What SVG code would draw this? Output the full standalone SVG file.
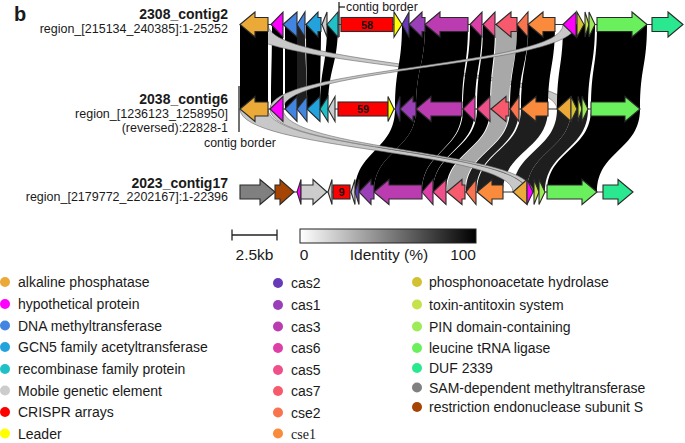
<svg xmlns="http://www.w3.org/2000/svg" width="685" height="443" viewBox="0 0 685 443">
<defs>
<linearGradient id="idg" x1="0" y1="0" x2="1" y2="0"><stop offset="0" stop-color="#ffffff"/><stop offset="1" stop-color="#000000"/></linearGradient>
</defs>
<style>
text{font-family:"Liberation Sans",Arial,sans-serif;fill:#1a1a1a}
.ttl{font-size:14px;font-weight:bold;text-anchor:end}
.sub{font-size:12.5px;text-anchor:end}
.lg{font-size:14px}
.cb{font-size:15.5px}
.num{font-size:11px;font-weight:bold;text-anchor:middle;fill:#111}
.g path,.g rect{stroke:#2b2b2b;stroke-width:1.1;stroke-linejoin:miter}
.trk{stroke:#333;stroke-width:1}
.rk{fill:#000}
.rd{fill:#1e1e1e}
.rm{fill:#a8a8a8}
.rl{fill:#c8c8c8;stroke:#666;stroke-width:0.6}
.alk{fill:#eba937}.hyp{fill:#ff00ff}.dna{fill:#4285e0}.gcn{fill:#22a3dd}.rec{fill:#20c0c8}.mob{fill:#cccccc}.cr{fill:#ff0000}.ld{fill:#ffff00}
.c2{fill:#673ab7}.c1{fill:#9b3fb8}.c3{fill:#bb3bb0}.c6{fill:#dd3fa8}.c5{fill:#f0508a}.c7{fill:#f65a6c}.e2{fill:#f7744e}.e1{fill:#fa8a3c}
.pho{fill:#d2c233}.tox{fill:#c5e24a}.pin{fill:#9ceb57}.leu{fill:#6bf05d}.duf{fill:#2ae890}.sam{fill:#808080}.res{fill:#a64503}
</style>
<rect width="685" height="443" fill="#ffffff"/>
<text x="14" y="21" style="font-size:20px;font-weight:bold">b</text>

<g id="connectors">
<!-- row1 to row2 -->
<path class="rk" d="M272 24.5L283 24.5C283 66.75 283 66.75 283 109L271 109C271 66.75 272 66.75 272 24.5Z"/>
<path class="rk" d="M285 24.5L297 24.5C297 66.75 297 66.75 297 109L285 109C285 66.75 285 66.75 285 24.5Z"/>
<path class="rd" d="M297 24.5L305 24.5C305 66.75 307 66.75 307 109L297 109C297 66.75 297 66.75 297 24.5Z"/>
<path class="rk" d="M306 24.5L321 24.5C321 66.75 320 66.75 320 109L307 109C307 66.75 306 66.75 306 24.5Z"/>
<path class="rk" d="M327 24.5L338 24.5C338 66.75 328 66.75 328 109L320 109C320 66.75 327 66.75 327 24.5Z"/>
<path class="rl" d="M240 24.5L268 24.5C268 66.75 571 66.75 571 109L557 109C557 66.75 240 66.75 240 24.5Z"/>
<path class="rk" d="M402 24.5L425 24.5C425 66.75 416 66.75 416 109L395 109C395 66.75 402 66.75 402 24.5Z"/>
<path class="rk" d="M425 24.5L468 24.5C468 66.75 462 66.75 462 109L416 109C416 66.75 425 66.75 425 24.5Z"/>
<path class="rk" d="M470 24.5L482 24.5C482 66.75 475 66.75 475 109L463 109C463 66.75 470 66.75 470 24.5Z"/>
<path class="rk" d="M483 24.5L495 24.5C495 66.75 490 66.75 490 109L477 109C477 66.75 483 66.75 483 24.5Z"/>
<path class="rm" d="M496 24.5L517 24.5C517 66.75 509 66.75 509 109L491 109C491 66.75 496 66.75 496 24.5Z"/>
<path class="rk" d="M517 24.5L528 24.5C528 66.75 519 66.75 519 109L510 109C510 66.75 517 66.75 517 24.5Z"/>
<path class="rk" d="M528 24.5L555 24.5C555 66.75 548 66.75 548 109L521 109C521 66.75 528 66.75 528 24.5Z"/>
<path class="rk" d="M563 24.5L595 24.5C595 66.75 588 66.75 588 109L557 109C557 66.75 563 66.75 563 24.5Z"/>
<path class="rk" d="M597 24.5L647 24.5C647 66.75 640 66.75 640 109L591 109C591 66.75 597 66.75 597 24.5Z"/>
<path class="rl" d="M563 24.5L576 24.5C576 66.75 283 66.75 283 109L270 109C270 66.75 563 66.75 563 24.5Z"/>
<path class="rk" d="M240 24.5L268 24.5L268 109L240 109Z"/>
<!-- row2 to row3 -->
<path class="rk" d="M395 109L416 109C416 150.5 374 150.5 374 192L355 192C355 150.5 395 150.5 395 109Z"/>
<path class="rk" d="M416 109L462 109C462 150.5 422 150.5 422 192L374 192C374 150.5 416 150.5 416 109Z"/>
<path class="rk" d="M463 109L475 109C475 150.5 433 150.5 433 192L422 192C422 150.5 463 150.5 463 109Z"/>
<path class="rk" d="M477 109L490 109C490 150.5 446 150.5 446 192L433 192C433 150.5 477 150.5 477 109Z"/>
<path class="rm" d="M491 109L509 109C509 150.5 465 150.5 465 192L447 192C447 150.5 491 150.5 491 109Z"/>
<path class="rd" d="M510 109L519 109C519 150.5 476 150.5 476 192L466 192C466 150.5 510 150.5 510 109Z"/>
<path class="rd" d="M521 109L548 109C548 150.5 503 150.5 503 192L477 192C477 150.5 521 150.5 521 109Z"/>
<path class="rd" d="M557 109L571 109C571 150.5 527 150.5 527 192L513 192C513 150.5 557 150.5 557 109Z"/>
<path class="rd" d="M571 109L588 109C588 150.5 545 150.5 545 192L527 192C527 150.5 571 150.5 571 109Z"/>
<path class="rk" d="M591 109L640 109C640 150.5 597 150.5 597 192L547 192C547 150.5 591 150.5 591 109Z"/>
<path class="rl" d="M240 109L268 109C268 150.5 527 150.5 527 192L513 192C513 150.5 240 150.5 240 109Z"/>
<path class="rl" d="M270 109L283 109C283 150.5 533 150.5 533 192L527 192C527 150.5 270 150.5 270 109Z"/>
</g>

<g id="borders" stroke="#111" stroke-width="1.2">
<line x1="339" y1="2" x2="339" y2="37"/>
<line x1="339" y1="7" x2="345" y2="7"/>
<line x1="239" y1="86" x2="239" y2="132"/>
</g>
<text x="346" y="11" style="font-size:12.3px">contig border</text>
<text x="240" y="147" style="font-size:12.3px;text-anchor:middle">contig border</text>

<g id="track1" class="g">
<line class="trk" x1="240" y1="24.5" x2="683" y2="24.5"/>
<path class="alk" d="M240 24.5L255 12L255 17.5L268 17.5L268 31.5L255 31.5L255 37Z"/>
<path class="hyp" d="M271 24.5L283 12L283 37Z"/>
<path class="dna" d="M283 24.5L297 12L297 37Z"/>
<path class="dna" d="M297 24.5L305 12L305 37Z"/>
<path class="gcn" d="M306 24.5L318 12L318 17.5L321 17.5L321 31.5L318 31.5L318 37Z"/>
<path class="mob" d="M322 24.5L327 12L327 37Z"/>
<path class="rec" d="M327 24.5L338 12L338 37Z"/>
<rect class="cr" x="341" y="17.5" width="52" height="14"/>
<path class="ld" d="M402 24.5L394 12L394 37Z"/>
<path class="c2" d="M402 24.5L409 12L409 37Z"/>
<path class="c1" d="M409 24.5L422 12L422 17.5L425 17.5L425 31.5L422 31.5L422 37Z"/>
<path class="c3" d="M425 24.5L440 12L440 17.5L468 17.5L468 31.5L440 31.5L440 37Z"/>
<path class="c6" d="M470 24.5L482 12L482 37Z"/>
<path class="c5" d="M483 24.5L495 12L495 37Z"/>
<path class="c7" d="M496 24.5L511 12L511 17.5L517 17.5L517 31.5L511 31.5L511 37Z"/>
<path class="e2" d="M517 24.5L528 12L528 37Z"/>
<path class="e1" d="M528 24.5L543 12L543 17.5L555 17.5L555 31.5L543 31.5L543 37Z"/>
<path class="hyp" d="M563 24.5L576 12L576 37Z"/>
<path class="pho" d="M584 24.5L577 12L577 37Z"/>
<path class="tox" d="M589 24.5L585 12L585 37Z"/>
<path class="pin" d="M595 24.5L589 12L589 37Z"/>
<path class="leu" d="M647 24.5L632 12L632 17.5L597 17.5L597 31.5L632 31.5L632 37Z"/>
<path class="duf" d="M683 24.5L668 12L668 17.5L652 17.5L652 31.5L668 31.5L668 37Z"/>
</g>
<text class="num" x="367" y="28.5">58</text>

<g id="track2" class="g">
<line class="trk" x1="240" y1="109" x2="640" y2="109"/>
<path class="alk" d="M240 109L255 96.5L255 102L268 102L268 116L255 116L255 121.5Z"/>
<path class="hyp" d="M270 109L283 96.5L283 121.5Z"/>
<path class="dna" d="M285 109L297 96.5L297 121.5Z"/>
<path class="dna" d="M297 109L307 96.5L307 121.5Z"/>
<path class="gcn" d="M307 109L320 96.5L320 121.5Z"/>
<path class="rec" d="M320 109L328 96.5L328 121.5Z"/>
<path class="mob" d="M328 109L335 96.5L335 121.5Z"/>
<rect class="cr" x="338" y="102" width="50" height="14"/>
<path class="ld" d="M394 109L388 96.5L388 121.5Z"/>
<path class="c2" d="M395 109L400 96.5L400 121.5Z"/>
<path class="c1" d="M400 109L413 96.5L413 102L416 102L416 116L413 116L413 121.5Z"/>
<path class="c3" d="M416 109L431 96.5L431 102L462 102L462 116L431 116L431 121.5Z"/>
<path class="c6" d="M463 109L475 96.5L475 121.5Z"/>
<path class="c5" d="M477 109L490 96.5L490 121.5Z"/>
<path class="c7" d="M491 109L506 96.5L506 102L509 102L509 116L506 116L506 121.5Z"/>
<path class="e2" d="M510 109L519 96.5L519 121.5Z"/>
<path class="e1" d="M521 109L536 96.5L536 102L548 102L548 116L536 116L536 121.5Z"/>
<path class="alk" d="M557 109L571 96.5L571 121.5Z"/>
<path class="pho" d="M577 109L571 96.5L571 121.5Z"/>
<path class="tox" d="M582 109L578 96.5L578 121.5Z"/>
<path class="pin" d="M588 109L582 96.5L582 121.5Z"/>
<path class="leu" d="M640 109L625 96.5L625 102L591 102L591 116L625 116L625 121.5Z"/>
</g>
<text class="num" x="363" y="113">59</text>

<g id="track3" class="g">
<line class="trk" x1="240" y1="192" x2="633" y2="192"/>
<path class="sam" d="M275 192L260 179.5L260 185L240 185L240 199L260 199L260 204.5Z"/>
<path class="res" d="M294 192L280 179.5L280 185L275 185L275 199L280 199L280 204.5Z"/>
<path class="hyp" d="M297 192L301 179.5L301 204.5Z"/>
<path class="mob" d="M327 192L313 179.5L313 185L301 185L301 199L313 199L313 204.5Z"/>
<path class="mob" d="M328 192L332 179.5L332 204.5Z"/>
<rect class="cr" x="333" y="185" width="17" height="14"/>
<path class="mob" d="M351 192L355 179.5L355 204.5Z"/>
<path class="c2" d="M355 192L359 179.5L359 204.5Z"/>
<path class="c1" d="M359 192L371 179.5L371 185L374 185L374 199L371 199L371 204.5Z"/>
<path class="c3" d="M374 192L389 179.5L389 185L422 185L422 199L389 199L389 204.5Z"/>
<path class="c6" d="M422 192L433 179.5L433 204.5Z"/>
<path class="c5" d="M433 192L446 179.5L446 204.5Z"/>
<path class="c7" d="M447 192L462 179.5L462 185L465 185L465 199L462 199L462 204.5Z"/>
<path class="e2" d="M466 192L476 179.5L476 204.5Z"/>
<path class="e1" d="M477 192L492 179.5L492 185L503 185L503 199L492 199L492 204.5Z"/>
<path class="alk" d="M513 192L527 179.5L527 204.5Z"/>
<path class="hyp" d="M533 192L527 179.5L527 204.5Z"/>
<path class="tox" d="M539 192L534 179.5L534 204.5Z"/>
<path class="pin" d="M545 192L539 179.5L539 204.5Z"/>
<path class="leu" d="M597 192L582 179.5L582 185L547 185L547 199L582 199L582 204.5Z"/>
<path class="duf" d="M633 192L618 179.5L618 185L603 185L603 199L618 199L618 204.5Z"/>
</g>
<text class="num" x="341.5" y="196">9</text>

<g id="labels">
<text class="ttl" x="228" y="18.5">2308_contig2</text>
<text class="sub" x="228" y="32.5">region_[215134_240385]:1-25252</text>
<text class="ttl" x="228" y="103.5">2038_contig6</text>
<text class="sub" x="228" y="117.5">region_[1236123_1258950]</text>
<text class="sub" x="228" y="131.5">(reversed):22828-1</text>
<text class="ttl" x="228" y="187.5">2023_contig17</text>
<text class="sub" x="228" y="201">region_[2179772_2202167]:1-22396</text>
</g>

<g id="scalebar" stroke="#222" stroke-width="1.3">
<line x1="232" y1="235" x2="277" y2="235"/>
<line x1="232" y1="229.5" x2="232" y2="240.5"/>
<line x1="277" y1="229.5" x2="277" y2="240.5"/>
</g>
<text class="cb" x="254.5" y="260" style="text-anchor:middle">2.5kb</text>

<g id="colorbar">
<rect x="300" y="229" width="176" height="14" fill="url(#idg)" stroke="#222" stroke-width="1"/>
<text class="cb" x="304" y="260" style="text-anchor:middle">0</text>
<text class="cb" x="389" y="260" style="text-anchor:middle">Identity (%)</text>
<text class="cb" x="476" y="260" style="text-anchor:end">100</text>
</g>

<g id="legend">
<circle class="alk" cx="5" cy="282" r="5"/><text class="lg" x="18" y="287">alkaline phosphatase</text>
<circle class="hyp" cx="5" cy="304" r="5"/><text class="lg" x="18" y="309">hypothetical protein</text>
<circle class="dna" cx="5" cy="325.5" r="5"/><text class="lg" x="18" y="330.5">DNA methyltransferase</text>
<circle class="gcn" cx="5" cy="347" r="5"/><text class="lg" x="18" y="352">GCN5 family acetyltransferase</text>
<circle class="rec" cx="5" cy="369" r="5"/><text class="lg" x="18" y="374">recombinase family protein</text>
<circle class="mob" cx="5" cy="390.5" r="5"/><text class="lg" x="18" y="395.5">Mobile genetic element</text>
<circle class="cr" cx="5" cy="412" r="5"/><text class="lg" x="18" y="417">CRISPR arrays</text>
<circle class="ld" cx="5" cy="433.5" r="5"/><text class="lg" x="18" y="438.5">Leader</text>

<circle class="c2" cx="278" cy="283" r="5"/><text class="lg" x="291" y="288">cas2</text>
<circle class="c1" cx="278" cy="305" r="5"/><text class="lg" x="291" y="310">cas1</text>
<circle class="c3" cx="278" cy="326.5" r="5"/><text class="lg" x="291" y="331.5">cas3</text>
<circle class="c6" cx="278" cy="348" r="5"/><text class="lg" x="291" y="353">cas6</text>
<circle class="c5" cx="278" cy="370" r="5"/><text class="lg" x="291" y="375">cas5</text>
<circle class="c7" cx="278" cy="391" r="5"/><text class="lg" x="291" y="396">cas7</text>
<circle class="e2" cx="278" cy="412.5" r="5"/><text class="lg" x="291" y="417.5">cse2</text>
<circle class="e1" cx="278" cy="433.5" r="5"/><text class="lg" x="291" y="438.5" style="font-family:'Liberation Serif','Times New Roman',serif">cse1</text>

<circle class="pho" cx="417" cy="282" r="5"/><text class="lg" x="429" y="287">phosphonoacetate hydrolase</text>
<circle class="tox" cx="417" cy="304.5" r="5"/><text class="lg" x="429" y="309.5">toxin-antitoxin system</text>
<circle class="pin" cx="417" cy="326.5" r="5"/><text class="lg" x="429" y="331.5">PIN domain-containing</text>
<circle class="leu" cx="417" cy="348" r="5"/><text class="lg" x="429" y="353">leucine tRNA ligase</text>
<circle class="duf" cx="417" cy="368" r="5"/><text class="lg" x="429" y="373">DUF 2339</text>
<circle class="sam" cx="417" cy="387.5" r="5"/><text class="lg" x="429" y="392.5">SAM-dependent methyltransferase</text>
<circle class="res" cx="417" cy="407" r="5"/><text class="lg" x="429" y="412">restriction endonuclease subunit S</text>
</g>
</svg>
